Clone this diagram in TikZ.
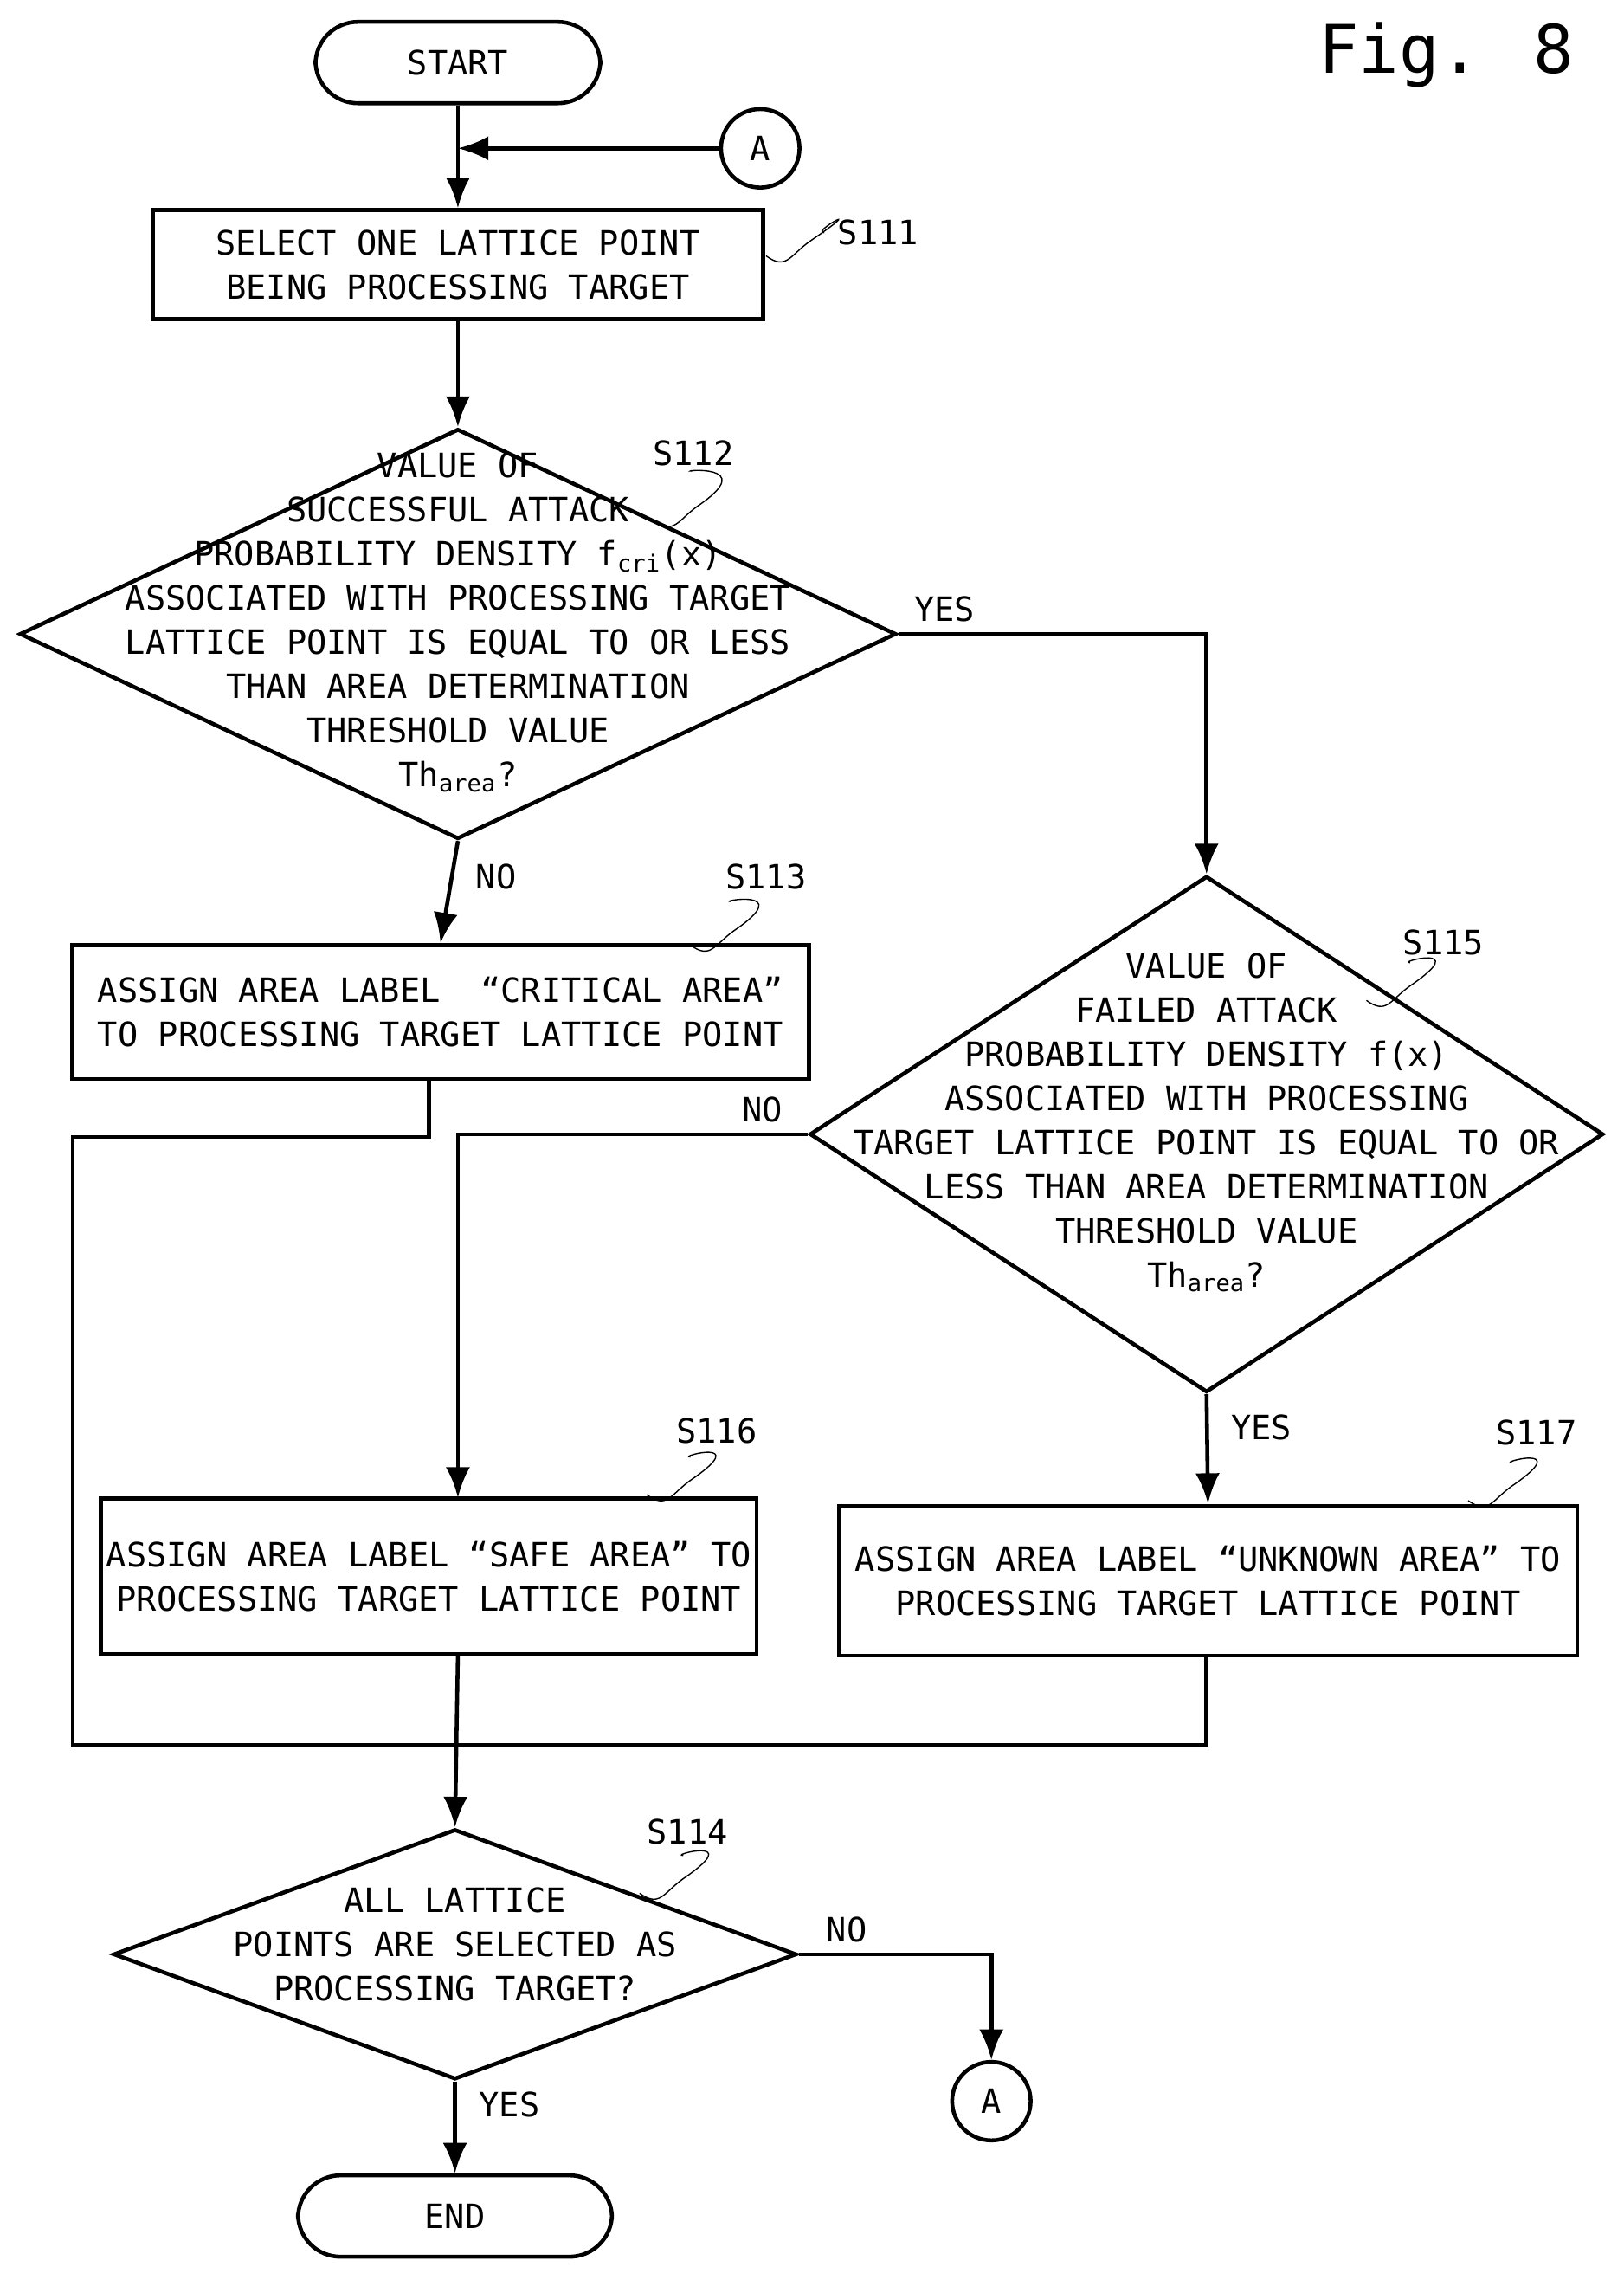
\documentclass[tikz,border=0pt]{standalone}
\usepackage{fontspec}
\setmainfont{DejaVu Sans Mono}
\usetikzlibrary{shapes.geometric,arrows.meta}
\newcommand{\squig}[2]{\draw[thin] (#1) .. controls +(14,10) and +(-14,10) .. +(30,-10) .. controls +(44,-30) and +(-10,0) .. +(#2)}
\begin{document}
\begin{tikzpicture}[x=0.01679cm, y=-0.01679cm,
    line width=1.3pt,
    every node/.style={font=\fontsize{11}{14.5}\selectfont, align=center, line width=1.3pt},
    term/.style={draw, rounded corners=14pt, minimum width=196*0.01679cm, minimum height=56*0.01679cm},
    procbox/.style={draw, rectangle, inner sep=0pt},
    decision/.style={draw, diamond, inner sep=0pt},
    conn/.style={draw, circle, minimum size=54*0.01679cm, inner sep=0pt},
    arr/.style={-{Latex[length=10pt,width=8pt]}},
    steptag/.style={anchor=west}
]
    \useasboundingbox (0,0) rectangle (1117,1568);
    \node[font=\fontsize{22}{24}\selectfont] (fig) at (995,38) {Fig. 8};

    % terminals and connectors
    \node[term] (start) at (315,43) {START};
    \node[conn] (ain) at (523,102) {A};
    \coordinate (join) at (315,102);

    % S111
    \node[procbox, minimum width=420*0.01679cm, minimum height=75*0.01679cm] (s111) at (315,182) {SELECT ONE LATTICE POINT\\BEING PROCESSING TARGET};
    \node[steptag] (t111) at (568,160) {S111};

    % S112
    \node[decision, minimum width=603*0.01679cm, minimum height=282*0.01679cm] (s112) at (315,436) {};
    \node (s112txt) at (315,428) {VALUE OF\\SUCCESSFUL ATTACK\\PROBABILITY DENSITY f\textsubscript{cri}(x)\\ASSOCIATED WITH PROCESSING TARGET\\LATTICE POINT IS EQUAL TO OR LESS\\THAN AREA DETERMINATION\\THRESHOLD VALUE\\Th\textsubscript{area}?};
    \node (t112) at (477,312) {S112};

    % S113
    \node[procbox, minimum width=507*0.01679cm, minimum height=92*0.01679cm] (s113) at (303,696) {ASSIGN AREA LABEL \ “CRITICAL AREA”\\TO PROCESSING TARGET LATTICE POINT};
    \node (t113) at (527,603) {S113};

    % S115
    \node[decision, minimum width=546*0.01679cm, minimum height=355*0.01679cm] (s115) at (830,780) {};
    \node (s115txt) at (830,772) {VALUE OF\\FAILED ATTACK\\PROBABILITY DENSITY f(x)\\ASSOCIATED WITH PROCESSING\\TARGET LATTICE POINT IS EQUAL TO OR\\LESS THAN AREA DETERMINATION\\THRESHOLD VALUE\\Th\textsubscript{area}?};
    \node (t115) at (993,648) {S115};

    % S116, S117
    \node[procbox, minimum width=451*0.01679cm, minimum height=107*0.01679cm] (s116) at (295,1084) {ASSIGN AREA LABEL “SAFE AREA” TO\\PROCESSING TARGET LATTICE POINT};
    \node (t116) at (493,984) {S116};
    \node[procbox, minimum width=508*0.01679cm, minimum height=103*0.01679cm] (s117) at (831,1087) {ASSIGN AREA LABEL “UNKNOWN AREA” TO\\PROCESSING TARGET LATTICE POINT};
    \node (t117) at (1057,985) {S117};

    % S114
    \node[decision, minimum width=470*0.01679cm, minimum height=172*0.01679cm] (s114) at (313,1344) {};
    \node (s114txt) at (313,1337) {ALL LATTICE\\POINTS ARE SELECTED AS\\PROCESSING TARGET?};
    \node (t114) at (473,1260) {S114};

    \node[conn] (aout) at (682,1445) {A};
    \node[term, minimum width=216*0.01679cm] (end) at (313,1524) {END};

    % step tags
    \squig{527,176}{40,-16};
    \squig{450,358}{26,-34};
    \squig{475,650}{28,-30};
    \squig{940,688}{30,-26};
    \squig{445,1028}{30,-26};
    \squig{1010,1032}{30,-26};
    \squig{440,1302}{30,-26};

    % connectors
    \draw (start.south) -- (join);
    \draw[arr] (ain.west) -- (join);
    \draw[arr] (join) -- (s111.north);
    \draw[arr] (s111.south) -- (s112.north);
    \draw[arr] (s112.south) -- node[right, pos=0.35, xshift=4pt] {NO} (s113.north);
    \draw[arr] (s112.east) -- node[above, pos=0.15] {YES} (830,436) -- (s115.north);
    \draw[arr] (s115.west) -- node[above, pos=0.13] {NO} (315,780) -- (315,1030);
    \draw[arr] (s115.south) -- node[right, pos=0.3, xshift=4pt] {YES} (s117.north);
    \draw (295,742) -- (295,782) -- (50,782) -- (50,1200) -- (830,1200) -- (830,1138);
    \draw[arr] (315,1137) -- (s114.north);
    \draw[arr] (s114.east) -- node[above, pos=0.25] {NO} (682,1344) -- (aout.north);
    \draw[arr] (s114.south) -- node[right, pos=0.25, xshift=4pt] {YES} (end.north);
\end{tikzpicture}
\end{document}
